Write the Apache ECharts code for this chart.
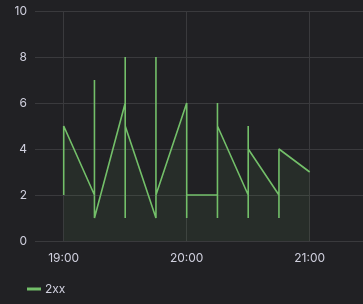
<!DOCTYPE html>
<html>
<head>
<meta charset="utf-8">
<script src="https://cdn.jsdelivr.net/npm/echarts@6/dist/echarts.min.js"></script>
<style>
html,body{margin:0;padding:0;background:#212124;}
#c{width:363px;height:304px;}
</style>
</head>
<body>
<div id="c"></div>
<script>
// Raw samples (several values share a timestamp -> vertical segments)
const times = ['19:00','19:00',
  '19:15','19:15','19:15',
  '19:30','19:30','19:30','19:30',
  '19:45','19:45','19:45',
  '20:00','20:00','20:00',
  '20:15','20:15','20:15','20:15',
  '20:30','20:30','20:30','20:30',
  '20:45','20:45','20:45',
  '21:00'];
const values = [2,5,
  2,7,1,
  6,8,1,5,
  1,8,2,
  6,1,2,
  2,6,1,5,
  2,5,1,4,
  2,1,4,
  3];
const xTickLabels = ['19:00','20:00','21:00'];
const seriesName = '2xx';

const toMin = s => { const p = s.split(':'); return (+p[0])*60 + (+p[1]); };
const fmt = m => { const h = Math.floor(m/60), mm = Math.round(m%60); return String(h).padStart(2,'0')+':'+String(mm).padStart(2,'0'); };
const data = times.map((t,i)=>[toMin(t), values[i]]);
const xTicks = xTickLabels.map(toMin);

const chart = echarts.init(document.getElementById('c'), null, {renderer:'canvas'});
const labelColor = '#d0d0de';
const gridColor = '#3a3a3d';
chart.setOption({
  backgroundColor: '#212124',
  animation: false,
  textStyle: {fontFamily: 'Inter, Roboto, sans-serif'},
  grid: {left: 35, right: 0, top: 11, bottom: 63, containLabel: false},
  legend: {
    left: 22, top: 278,
    icon: 'rect', itemWidth: 14, itemHeight: 3, itemGap: 10,
    textStyle: {color: labelColor, fontSize: 12, padding: [0,0,0,-1]},
    data: [seriesName]
  },
  xAxis: {
    type: 'value',
    min: 1126, max: 1286,
    axisLine: {show: false},
    axisTick: {show: false, customValues: xTicks},
    axisLabel: {customValues: xTicks, color: labelColor, fontSize: 12, margin: 11, formatter: v => fmt(v)},
    splitLine: {show: true, lineStyle: {color: gridColor, width: 1}}
  },
  yAxis: {
    type: 'value',
    min: 0, max: 10, interval: 2,
    axisLine: {show: false},
    axisTick: {show: false},
    axisLabel: {color: labelColor, fontSize: 12, margin: 8},
    splitLine: {show: true, lineStyle: {color: gridColor, width: 1}}
  },
  series: [{
    name: seriesName,
    type: 'line',
    data: data,
    showSymbol: false,
    symbol: 'none',
    color: '#73BF69',
    lineStyle: {color: '#73BF69', width: 1.6},
    areaStyle: {color: 'rgba(115,191,105,0.11)', origin: 'start'}
  }]
});
</script>
</body>
</html>
